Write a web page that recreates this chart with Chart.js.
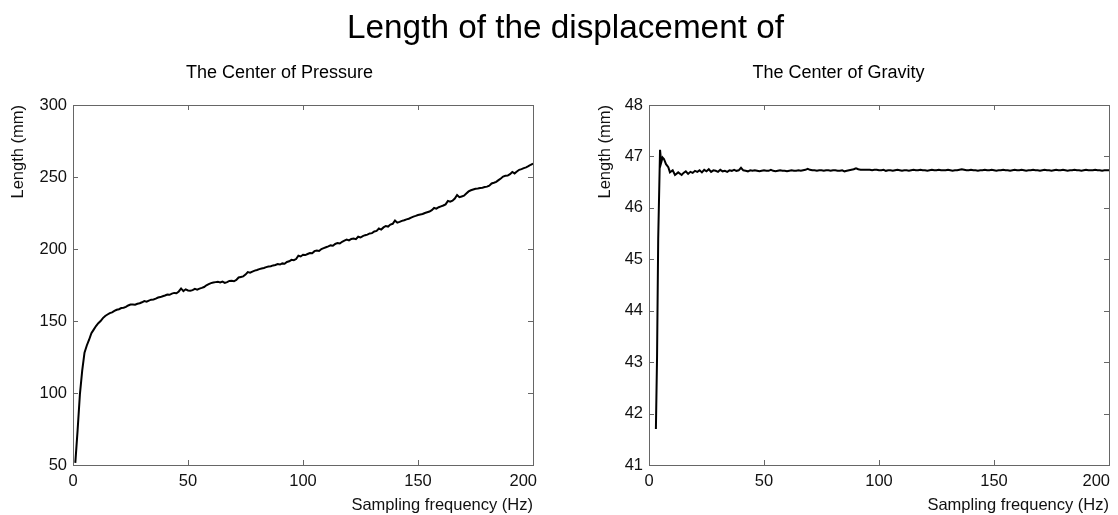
<!DOCTYPE html>
<html>
<head>
<meta charset="utf-8">
<script src="https://cdn.jsdelivr.net/npm/chart.js@4/dist/chart.umd.min.js"></script>
<style>
  html, body { margin: 0; padding: 0; background: #fff; }
  #page { position: relative; width: 1118px; height: 515px; overflow: hidden; font-family: 'Liberation Sans', Arial, sans-serif; color: #000; }
  .title { position: absolute; top: 8px; left: 0; width: 1131px; text-align: center; font-size: 33.3px; line-height: normal; }
  .sub { position: absolute; top: 62px; width: 559px; text-align: center; font-size: 18px; line-height: normal; }
  .box { position: absolute; top: 0; width: 559px; height: 515px; }
</style>
</head>
<body>
<div id="page">
  <div class="box" style="left:0"><canvas id="copChart" width="559" height="515"></canvas></div>
  <div class="box" style="left:559px"><canvas id="cogChart" width="559" height="515"></canvas></div>
  <div class="title">Length of the displacement of</div>
  <div class="sub" style="left:0">The Center of Pressure</div>
  <div class="sub" style="left:559px">The Center of Gravity</div>
</div>
<script>
// Center of Pressure: one value per Hz, 1..200
const copFreq = [];
for (let f = 1; f <= 200; f++) copFreq.push(f);
const copLength = [
  51.5, 74, 99, 115.5, 128, 133, 137, 141.5, 144, 146.5,
  148.5, 150, 152, 153.5, 154.5, 155.5, 156, 157, 157.8, 158.2,
  159, 159.2, 159.8, 160.8, 161.4, 161.5, 161.3, 162, 162.3, 163,
  163.8, 163.4, 164.2, 164.8, 165, 165.5, 166.3, 166.6, 167.2, 167.7,
  168.4, 168.2, 169, 169.5, 169.3, 170.5, 172.6, 170.8, 172, 171.2,
  171, 171.4, 172.3, 171.8, 172.5, 173, 173.6, 174.8, 175.6, 176.3,
  176.7, 177, 177.2, 176.8, 177.4, 176.5, 177, 177.8, 178, 177.6,
  178.5, 180.2, 180.6, 181, 182.2, 184, 183.6, 184.3, 185, 185.4,
  186, 186.5, 186.8, 187.4, 187.8, 188, 188.6, 188.9, 189.5, 189.2,
  190, 189.8, 191, 191.5, 192.5, 192.2, 193, 195.3, 194.8, 196,
  195.8, 196.5, 197.2, 197, 198.5, 199, 198.6, 200, 200.6, 201.2,
  201.8, 202.5, 202.3, 203.5, 204.2, 203.8, 205, 205.8, 206.5, 206,
  207, 207.3, 206.8, 208.5, 208, 209, 209.6, 210, 210.8, 211,
  212.2, 212.6, 214.2, 213.5, 215, 216, 215.6, 217, 217.5, 219.8,
  218.3, 218.8, 219.5, 220, 220.6, 221, 221.8, 222.5, 223, 223.6,
  224, 224.3, 225, 225.5, 226, 227, 228.5, 228, 229, 229.6,
  230.2, 231, 233.4, 232.8, 233.5, 235, 237.5, 236, 236.5, 237,
  238.5, 240, 240.8, 241.3, 241.8, 242, 242.3, 242.6, 243, 243.3,
  244, 245.5, 246, 246.6, 247.8, 249, 250.3, 250.8, 251, 252,
  253.5, 252.5, 253.8, 255, 255.5, 256.2, 256.7, 257.5, 258.5, 259.3
];

// Center of Gravity: first samples are uneven, then one per Hz up to 200
const cogFreq = [3, 3.5, 4, 4.8, 5.3, 5.9, 6.5, 7.4, 8.4, 9.1, 10.3, 11.3, 12.7, 14.2];
for (let f = 15; f <= 200; f++) cogFreq.push(f);
const cogLength = [
  41.7, 43.1, 45.4, 47.13, 46.88, 46.98, 46.95, 46.85, 46.79, 46.69, 46.73, 46.64, 46.69, 46.64,
  46.68, 46.71, 46.66, 46.70, 46.68, 46.72, 46.70, 46.73, 46.69, 46.74,
  46.71, 46.75, 46.70, 46.73, 46.72, 46.70, 46.74, 46.71, 46.72, 46.70,
  46.73, 46.72, 46.74, 46.72, 46.73, 46.78, 46.73, 46.72, 46.71, 46.73,
  46.72, 46.73, 46.72, 46.71, 46.72, 46.73, 46.72, 46.72, 46.74, 46.72,
  46.71, 46.72, 46.73, 46.72, 46.72, 46.71, 46.72, 46.73, 46.72, 46.72,
  46.73, 46.72, 46.73, 46.74, 46.76, 46.74, 46.73, 46.73, 46.72, 46.73,
  46.73, 46.72, 46.73, 46.73, 46.72, 46.73, 46.73, 46.72, 46.72, 46.73,
  46.71, 46.72, 46.73, 46.74, 46.75, 46.77, 46.75, 46.74, 46.74, 46.74,
  46.74, 46.74, 46.73, 46.74, 46.74, 46.73, 46.73, 46.74, 46.72, 46.73,
  46.73, 46.72, 46.73, 46.74, 46.73, 46.72, 46.73, 46.73, 46.72, 46.73,
  46.74, 46.73, 46.73, 46.74, 46.73, 46.73, 46.72, 46.73, 46.74, 46.73,
  46.73, 46.74, 46.73, 46.73, 46.73, 46.74, 46.73, 46.72, 46.73, 46.73,
  46.74, 46.75, 46.74, 46.73, 46.73, 46.74, 46.73, 46.73, 46.72, 46.73,
  46.73, 46.74, 46.73, 46.73, 46.74, 46.73, 46.72, 46.73, 46.73, 46.74,
  46.73, 46.73, 46.72, 46.73, 46.74, 46.73, 46.73, 46.74, 46.73, 46.72,
  46.73, 46.73, 46.74, 46.73, 46.73, 46.72, 46.73, 46.74, 46.73, 46.73,
  46.72, 46.73, 46.74, 46.73, 46.73, 46.74, 46.73, 46.72, 46.73, 46.73,
  46.74, 46.73, 46.73, 46.72, 46.73, 46.74, 46.73, 46.73, 46.73, 46.74,
  46.73, 46.73, 46.72, 46.73, 46.73, 46.73
];

const xTicks = [0, 50, 100, 150, 200];
const copTicks = [50, 100, 150, 200, 250, 300];
const cogTicks = [41, 42, 43, 44, 45, 46, 47, 48];

Chart.defaults.font.family = "'Liberation Sans', Arial, sans-serif";
Chart.defaults.font.size = 16.5;
Chart.defaults.color = '#111';

// box around the plot with short ticks pointing inward,
// and the last x label pulled back inside like the original
const boxPlugin = {
  id: 'box',
  beforeDraw(chart, args, opts) {
    const x = chart.scales.x;
    const items = x.getLabelItems(chart.chartArea);
    const last = items[items.length - 1];
    if (last) {
      last.options.textAlign = 'right';
      last.options.translation[0] = x.getPixelForValue(x.max) + opts.lastShift;
    }
  },
  afterDraw(chart) {
    const { ctx, chartArea: a, scales: { x, y } } = chart;
    const len = 5;
    ctx.save();
    ctx.strokeStyle = '#666';
    ctx.lineWidth = 1;
    ctx.strokeRect(Math.round(a.left) + 0.5, Math.round(a.top) + 0.5,
      Math.round(a.right - a.left), Math.round(a.bottom - a.top));
    ctx.beginPath();
    x.ticks.forEach(t => {
      const px = Math.round(x.getPixelForValue(t.value)) + 0.5;
      ctx.moveTo(px, a.bottom); ctx.lineTo(px, a.bottom - len);
      ctx.moveTo(px, a.top); ctx.lineTo(px, a.top + len);
    });
    y.ticks.forEach(t => {
      const py = Math.round(y.getPixelForValue(t.value)) + 0.5;
      ctx.moveTo(a.left, py); ctx.lineTo(a.left + len, py);
      ctx.moveTo(a.right, py); ctx.lineTo(a.right - len, py);
    });
    ctx.stroke();
    ctx.restore();
  }
};

function createChart(id, freq, values, yTicks, yWidth, yTitlePad, padRight, lastShift) {
  const points = freq.map((f, i) => ({ x: f, y: values[i] }));
  return new Chart(document.getElementById(id), {
    type: 'line',
    data: {
      datasets: [{
        data: points,
        borderColor: '#000',
        borderWidth: 2,
        pointRadius: 0,
        tension: 0,
        fill: false
      }]
    },
    options: {
      responsive: false,
      animation: false,
      devicePixelRatio: 1,
      layout: { padding: { top: 105, right: padRight, bottom: 0, left: 0 } },
      plugins: {
        legend: { display: false },
        title: { display: false },
        tooltip: { enabled: false },
        box: { lastShift: lastShift }
      },
      scales: {
        x: {
          type: 'linear',
          min: xTicks[0],
          max: xTicks[xTicks.length - 1],
          grid: { display: false, drawTicks: false },
          border: { display: false },
          afterBuildTicks: s => { s.ticks = xTicks.map(v => ({ value: v })); },
          ticks: { padding: 7, maxRotation: 0, autoSkip: false },
          title: {
            display: true,
            text: 'Sampling frequency (Hz)',
            align: 'end',
            padding: { top: 0, bottom: 0 },
            font: { size: 16.5 }
          },
          afterFit: s => { s.height = 50; s.paddingLeft = 0; s.paddingRight = 0; }
        },
        y: {
          min: yTicks[0],
          max: yTicks[yTicks.length - 1],
          grid: { display: false, drawTicks: false },
          border: { display: false },
          afterBuildTicks: s => { s.ticks = yTicks.map(v => ({ value: v })); },
          ticks: { padding: 6, autoSkip: false },
          title: {
            display: true,
            text: 'Length (mm)',
            align: 'end',
            padding: { top: yTitlePad, bottom: 0 },
            font: { size: 16.5 }
          },
          afterFit: s => { s.width = yWidth; s.paddingTop = 0; s.paddingBottom = 0; }
        }
      }
    },
    plugins: [boxPlugin]
  });
}

document.addEventListener('DOMContentLoaded', function() {
  createChart('copChart', copFreq, copLength, copTicks, 73, 9, 26, 4);
  createChart('cogChart', cogFreq, cogLength, cogTicks, 90, 37, 9, 1);
});
</script>
</body>
</html>
